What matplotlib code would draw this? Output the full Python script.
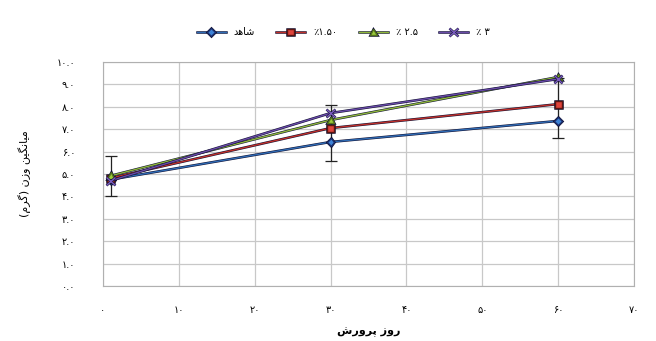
import matplotlib.pyplot as plt
import matplotlib.patheffects as pe

# Persian text is written in visual (left-to-right) order with presentation forms
days = [1, 30, 60]
shahed = [4.75, 6.43, 7.37]
p150 = [4.82, 7.05, 8.12]
p25 = [4.92, 7.41, 9.33]
p3 = [4.70, 7.72, 9.24]
err_low = [0.75, 0.83, 0.77]
err_high = [1.05, 1.65, 1.90]

labels = ['ﺪﻫﺎﺷ', '٪۱.۵۰', '٪ ۲.۵', '٪ ۳']
fa = str.maketrans('0123456789', '۰۱۲۳۴۵۶۷۸۹')
xticks = list(range(0, 71, 10))
yticks = list(range(0, 11))

fig = plt.figure(figsize=(6.56, 3.41), dpi=100)
ax = fig.add_axes([103/656, 1 - 286/341, 531/656, 224/341])

styles = [
    dict(color='#2f6cb5', marker='D', mfc='#3d82d6', mec='#1b2f6e', ms=4),
    dict(color='#c0302a', marker='s', mfc='#e0443c', mec='#5a1512', ms=5),
    dict(color='#8fb83a', marker='^', mfc='#9ccc3c', mec='#55751c', ms=5),
    dict(color='#6a4aa8', marker='x', mfc='#7c5cc0', mec='#7c5cc0', ms=6, mew=1.0),
]
series = [shahed, p150, p25, p3]
for vals, lab, st in zip(series, labels, styles):
    ax.plot(days, vals, lw=1.0, label=lab, zorder=3,
            path_effects=[pe.Stroke(linewidth=1.8, foreground='#111133'), pe.Normal()],
            **st)

ax.errorbar(days, shahed, yerr=[err_low, err_high], fmt='none', ecolor='#222222',
            elinewidth=0.9, capsize=4, capthick=0.9, zorder=2)

ax.set_xlim(0, 70)
ax.set_ylim(0, 10)
ax.set_xticks(xticks)
ax.set_yticks(yticks)
ax.set_xticklabels([str(t).translate(fa) for t in xticks], fontsize=7)
ax.set_yticklabels([f'{t:.1f}'.translate(fa) for t in yticks], fontsize=7)
ax.tick_params(length=0, pad=14)
ax.tick_params(axis='y', pad=20)
ax.grid(True, color='#c8c8c8', lw=0.9)
ax.set_axisbelow(True)
for s in ax.spines.values():
    s.set_color('#b0b0b0')

ax.set_xlabel('ﺵﺭﻭﺮﭘ ﺯﻭﺭ', fontsize=8, fontweight='bold', labelpad=8)
ax.set_ylabel('(ﻡﺮﮔ) ﻥﺯﻭ ﻦﯿﮕﻧﺎﯿﻣ', fontsize=8, labelpad=18)

fig.legend(loc='center', bbox_to_anchor=(0.523, 0.905), ncol=4, frameon=False,
           fontsize=7, handlelength=3, columnspacing=2.2)

fig.savefig('out.png', dpi=100)
